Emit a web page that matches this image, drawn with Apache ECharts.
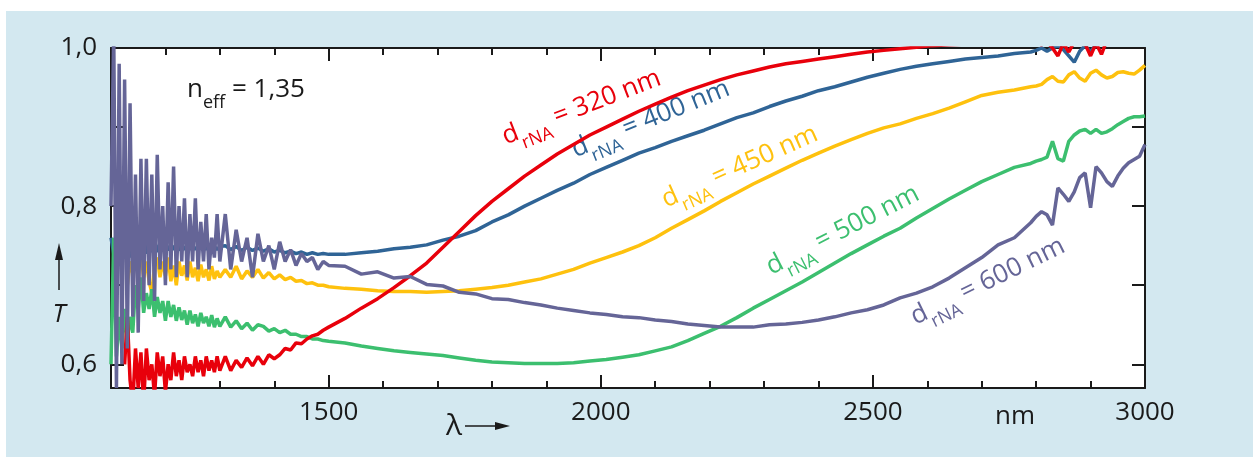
<!DOCTYPE html>
<html>
<head>
<meta charset="utf-8">
<script src="https://cdn.jsdelivr.net/npm/echarts@6/dist/echarts.min.js"></script>
<style>
  html, body { margin: 0; padding: 0; background: #fff; }
  #chart { position: absolute; left: 6px; top: 11px; width: 1247px; height: 446px; background: #d3e8f0; }
</style>
</head>
<body>
<div id="chart"></div>
<script>
// wavelength grid in nm (denser where the spectra are noisy)
const wavelengths = [
  1100, 1105, 1110, 1115, 1120, 1125, 1130, 1135, 1140, 1145, 1150, 1155, 1160, 1165, 1170, 1175, 1180, 1185, 1190, 1195,
  1200, 1205, 1210, 1215, 1220, 1225, 1230, 1235, 1240, 1245, 1250, 1255, 1260, 1265, 1270, 1275, 1280, 1285, 1290, 1295, 1300,
  1310, 1320, 1330, 1340, 1350, 1360, 1370, 1380, 1390, 1400, 1410, 1420, 1430, 1440, 1450, 1460, 1470, 1480, 1490, 1500,
  1530, 1560, 1590, 1620, 1650, 1680, 1710, 1740, 1770, 1800, 1830, 1860, 1890, 1920, 1950, 1980, 2010, 2040, 2070, 2100,
  2130, 2160, 2190, 2220, 2250, 2280, 2310, 2340, 2370, 2400, 2430, 2460, 2490, 2520, 2550, 2580, 2610, 2640, 2670, 2700,
  2730, 2760, 2790,
  2800, 2810, 2820, 2830, 2840, 2850, 2860, 2870, 2880, 2890, 2900, 2910, 2920, 2930, 2940, 2950, 2960, 2970, 2980, 2990, 3000
]

const t320 = [
  null, null, null, null, null, 0.60, 0.66, 0.58, 0.55, 0.62, 0.57, 0.615, 0.55, 0.62, 0.58, 0.60, 0.56, 0.615, 0.585, 0.61,
  0.565, 0.60, 0.58, 0.615, 0.585, 0.605, 0.58, 0.61, 0.59, 0.60, 0.585, 0.61, 0.59, 0.605, 0.585, 0.61, 0.592, 0.605, 0.59, 0.61, 0.592,
  0.61, 0.592, 0.605, 0.596, 0.608, 0.598, 0.61, 0.60, 0.612, 0.607, 0.612, 0.62, 0.618, 0.627, 0.626, 0.632, 0.636, 0.638, 0.643, 0.647,
  0.658, 0.671, 0.683, 0.697, 0.712, 0.728, 0.748, 0.768, 0.788, 0.806, 0.822, 0.838, 0.852, 0.866, 0.878, 0.89, 0.90, 0.91, 0.92, 0.929,
  0.938, 0.946, 0.953, 0.96, 0.966, 0.971, 0.976, 0.98, 0.983, 0.986, 0.989, 0.992, 0.995, 0.997, 0.999, 1.001, 1.003, 1.004, 1.005, 1.006,
  1.006, 1.007, 1.007,
  1.006, 1.004, 1.008, 1.0, 0.99, 1.006, 0.995, 1.008, 1.01, 1.005, 0.99, 1.006, 0.992, 1.01, 1.012, 1.012, 1.013, 1.013, 1.014, 1.014, 1.015
]

const t400 = [
  0.76, 0.74, 0.77, 0.73, 0.76, 0.74, 0.765, 0.735, 0.76, 0.74, 0.76, 0.74, 0.755, 0.74, 0.756, 0.742, 0.755, 0.742, 0.754, 0.743,
  0.753, 0.744, 0.752, 0.745, 0.752, 0.744, 0.751, 0.745, 0.751, 0.745, 0.75, 0.745, 0.75, 0.746, 0.75, 0.745, 0.75, 0.746, 0.749, 0.745, 0.749,
  0.75, 0.745, 0.749, 0.744, 0.748, 0.744, 0.747, 0.743, 0.746, 0.742, 0.744, 0.741, 0.743, 0.74, 0.742, 0.739, 0.741, 0.739, 0.74, 0.739,
  0.739, 0.741, 0.743, 0.746, 0.748, 0.751, 0.757, 0.762, 0.769, 0.78, 0.789, 0.80, 0.81, 0.82, 0.829, 0.84, 0.849, 0.858, 0.867, 0.874,
  0.882, 0.889, 0.896, 0.904, 0.912, 0.918, 0.926, 0.933, 0.939, 0.946, 0.951, 0.957, 0.963, 0.968, 0.973, 0.977, 0.98, 0.983, 0.986, 0.988,
  0.99, 0.993, 0.995,
  0.997, 1.0, 0.996, 1.0, 1.003, 0.998, 0.99, 0.982, 0.996, 1.003, 0.995, 1.005, 1.01, 1.012, 1.013, 1.014, 1.015, 1.015, 1.016, 1.016, 1.017
]

const t450 = [
  null, null, null, null, null, null, 0.70, 0.73, 0.715, 0.735, 0.72, 0.74, 0.71, 0.73, 0.705, 0.69, 0.725, 0.735, 0.71, 0.73,
  0.712, 0.735, 0.705, 0.725, 0.70, 0.73, 0.712, 0.725, 0.706, 0.73, 0.71, 0.722, 0.705, 0.726, 0.71, 0.72, 0.706, 0.724, 0.708, 0.718, 0.71,
  0.72, 0.71, 0.724, 0.708, 0.718, 0.71, 0.72, 0.709, 0.716, 0.708, 0.713, 0.707, 0.71, 0.705, 0.706, 0.702, 0.703, 0.70, 0.70, 0.698,
  0.696, 0.695, 0.693, 0.692, 0.692, 0.691, 0.692, 0.693, 0.695, 0.697, 0.70, 0.704, 0.708, 0.714, 0.72, 0.728, 0.735, 0.742, 0.75, 0.76,
  0.772, 0.783, 0.794, 0.806, 0.817, 0.828, 0.838, 0.848, 0.858, 0.867, 0.876, 0.884, 0.892, 0.899, 0.904, 0.911, 0.917, 0.924, 0.932, 0.94,
  0.944, 0.947, 0.951,
  0.952, 0.954, 0.96, 0.964, 0.958, 0.957, 0.966, 0.97, 0.962, 0.958, 0.968, 0.972, 0.966, 0.962, 0.964, 0.969, 0.97, 0.968, 0.967, 0.972, 0.978
]

const t500 = [
  0.60, 0.76, 0.61, 0.66, 0.62, 0.67, 0.63, 0.66, 0.64, 0.70, 0.67, 0.71, 0.665, 0.69, 0.67, 0.695, 0.66, 0.685, 0.665, 0.68,
  0.655, 0.68, 0.66, 0.675, 0.655, 0.672, 0.656, 0.668, 0.65, 0.668, 0.652, 0.663, 0.648, 0.665, 0.652, 0.66, 0.648, 0.662, 0.647, 0.658, 0.648,
  0.66, 0.647, 0.655, 0.645, 0.652, 0.643, 0.65, 0.648, 0.642, 0.645, 0.64, 0.643, 0.638, 0.638, 0.635, 0.635, 0.632, 0.632, 0.63, 0.629,
  0.627, 0.623, 0.62, 0.617, 0.615, 0.613, 0.611, 0.608, 0.605, 0.603, 0.602, 0.601, 0.601, 0.601, 0.602, 0.604, 0.606, 0.609, 0.612, 0.617,
  0.622, 0.63, 0.639, 0.648, 0.659, 0.671, 0.682, 0.693, 0.704, 0.716, 0.728, 0.74, 0.751, 0.762, 0.772, 0.785, 0.797, 0.809, 0.82, 0.831,
  0.84, 0.849, 0.854,
  0.857, 0.859, 0.862, 0.882, 0.86, 0.857, 0.882, 0.89, 0.895, 0.897, 0.892, 0.897, 0.892, 0.894, 0.898, 0.903, 0.907, 0.911, 0.913, 0.913, 0.914
]

const t600 = [
  0.80, 1.02, 0.57, 0.98, 0.60, 0.96, 0.62, 0.93, 0.66, 0.84, 0.64, 0.86, 0.68, 0.86, 0.70, 0.84, 0.68, 0.865, 0.72, 0.80,
  0.70, 0.83, 0.72, 0.85, 0.71, 0.80, 0.73, 0.81, 0.71, 0.79, 0.73, 0.81, 0.72, 0.78, 0.73, 0.79, 0.72, 0.76, 0.735, 0.79, 0.73,
  0.79, 0.72, 0.77, 0.73, 0.76, 0.71, 0.765, 0.73, 0.75, 0.72, 0.755, 0.73, 0.745, 0.725, 0.74, 0.73, 0.735, 0.72, 0.73, 0.725,
  0.724, 0.714, 0.717, 0.709, 0.711, 0.701, 0.699, 0.691, 0.689, 0.683, 0.682, 0.678, 0.675, 0.671, 0.668, 0.665, 0.663, 0.66, 0.659, 0.656,
  0.654, 0.651, 0.649, 0.647, 0.647, 0.647, 0.65, 0.651, 0.653, 0.656, 0.66, 0.665, 0.669, 0.675, 0.684, 0.69, 0.698, 0.709, 0.722, 0.735,
  0.751, 0.76, 0.779,
  0.787, 0.793, 0.789, 0.776, 0.823, 0.815, 0.806, 0.818, 0.836, 0.842, 0.798, 0.85, 0.842, 0.831, 0.825, 0.838, 0.848, 0.855, 0.859, 0.863, 0.878
]

const xMajorTicks = [1500, 2000, 2500, 3000]
const xMinorTicks = [1200, 1300, 1400, 1600, 1700, 1800, 1900, 2100, 2200, 2300, 2400, 2600, 2700, 2800, 2900]
const yTicks = [0.6, 0.7, 0.8, 0.9]
const yLabels = [0.6, 0.8, 1.0]

const FONT = '"Open Sans", "Noto Sans", sans-serif'
const INK = '#1a1a1a'

const curves = [
  { label: '400', data: t400, color: '#2f6496' },
  { label: '450', data: t450, color: '#fec10e' },
  { label: '500', data: t500, color: '#3cbf6f' },
  { label: '320', data: t320, color: '#e8000b' },
  { label: '600', data: t600, color: '#656597' },
]

// rotated curve labels: [text, color, x, y, angle in degrees]
const curveLabels = [
  ['320', '#e8000b', 505, 147, 21],
  ['400', '#2f6496', 575, 160, 22],
  ['450', '#fec10e', 666, 210, 24],
  ['500', '#3cbf6f', 772, 277, 27],
  ['600', '#656597', 916, 327, 26],
]

const chart = echarts.init(document.getElementById('chart'))

const xBase = {
  type: 'value',
  min: 1100,
  max: 3000,
  splitLine: { show: false },
  axisLine: { onZero: false, lineStyle: { color: INK, width: 2 } },
}

const subRich = (color) => ({
  d: { fontSize: 26, fontFamily: FONT, fill: color, padding: [0, 0, 9, 0], verticalAlign: 'bottom' },
  s: { fontSize: 18, fontFamily: FONT, fill: color, verticalAlign: 'bottom' },
})

chart.setOption({
  animation: false,
  grid: {
    left: 105, right: 108, top: 37, bottom: 69,
    show: true, backgroundColor: '#fff', borderWidth: 0,
  },
  xAxis: [
    Object.assign({}, xBase, {
      position: 'bottom',
      axisTick: { inside: true, length: 13, customValues: xMajorTicks, lineStyle: { color: INK, width: 2 } },
      axisLabel: {
        customValues: xMajorTicks, fontSize: 26, fontFamily: FONT, color: INK, margin: 12,
        formatter: v => String(v),
      },
    }),
    Object.assign({}, xBase, {
      position: 'bottom',
      axisLine: { show: false },
      axisTick: { inside: true, length: 7, customValues: xMinorTicks, lineStyle: { color: INK, width: 2 } },
      axisLabel: { show: false },
    }),
    Object.assign({}, xBase, {
      position: 'top',
      axisTick: { inside: true, length: 13, customValues: xMajorTicks, lineStyle: { color: INK, width: 2 } },
      axisLabel: { show: false },
    }),
    Object.assign({}, xBase, {
      position: 'top',
      axisLine: { show: false },
      axisTick: { inside: true, length: 7, customValues: xMinorTicks, lineStyle: { color: INK, width: 2 } },
      axisLabel: { show: false },
    }),
  ],
  yAxis: [
    {
      type: 'value', min: 0.57, max: 1.0, position: 'left',
      splitLine: { show: false },
      axisLine: { show: true, onZero: false, lineStyle: { color: INK, width: 2 } },
      axisTick: { show: true, inside: true, length: 13, customValues: yTicks, lineStyle: { color: INK, width: 2 } },
      axisLabel: {
        customValues: yLabels, fontSize: 26, fontFamily: FONT, color: INK, margin: 14,
        formatter: v => v.toFixed(1).replace('.', ','),
      },
    },
    {
      type: 'value', min: 0.57, max: 1.0, position: 'right',
      splitLine: { show: false },
      axisLine: { show: true, onZero: false, lineStyle: { color: INK, width: 2 } },
      axisTick: { show: true, inside: true, length: 13, customValues: yTicks, lineStyle: { color: INK, width: 2 } },
      axisLabel: { show: false },
    },
  ],
  series: curves.map(c => ({
    type: 'line',
    name: c.label,
    data: wavelengths.map((w, i) => [w, c.data[i] == null ? '-' : c.data[i]]),
    symbol: 'none',
    clip: true,
    lineStyle: { color: c.color, width: 3.5 },
  })),
  graphic: [
    {
      type: 'text', x: 181, y: 101,
      style: {
        text: '{d|n}{s|eff}{d| = 1,35}',
        align: 'left', verticalAlign: 'bottom',
        rich: subRich(INK),
      },
    },
    ...curveLabels.map(([t, color, x, y, a]) => ({
      type: 'text', x, y, rotation: a * Math.PI / 180,
      style: {
        text: '{d|d}{s|rNA}{d| = ' + t + ' nm}',
        align: 'left', verticalAlign: 'bottom',
        rich: subRich(color),
      },
    })),
    {
      type: 'text', x: 1009, y: 406,
      style: { text: 'nm', fontSize: 26, fontFamily: FONT, fill: INK, align: 'center', verticalAlign: 'middle' },
    },
    {
      type: 'text', x: 448, y: 415,
      style: { text: 'λ', fontSize: 30, fontFamily: FONT, fill: INK, align: 'center', verticalAlign: 'middle' },
    },
    { type: 'line', shape: { x1: 459, y1: 415, x2: 492, y2: 415 }, style: { stroke: INK, lineWidth: 1.5 } },
    { type: 'polygon', shape: { points: [[489, 411], [504, 415], [489, 419]] }, style: { fill: INK } },
    {
      type: 'text', x: 53, y: 304,
      style: { text: 'T', fontSize: 26, fontStyle: 'italic', fontFamily: FONT, fill: INK, align: 'center', verticalAlign: 'middle' },
    },
    { type: 'line', shape: { x1: 53, y1: 279, x2: 53, y2: 246 }, style: { stroke: INK, lineWidth: 1.5 } },
    { type: 'polygon', shape: { points: [[49, 249], [53, 232], [57, 249]] }, style: { fill: INK } },
  ],
})
</script>
</body>
</html>
